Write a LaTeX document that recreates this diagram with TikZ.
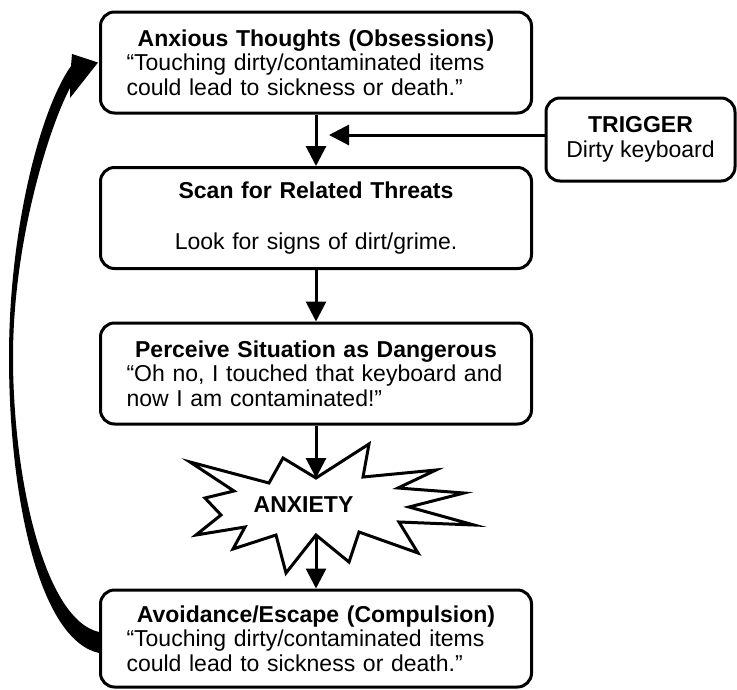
\documentclass[tikz,border=0pt]{standalone}
\usepackage{fontspec}
\setmainfont{Liberation Sans}
\usetikzlibrary{positioning,arrows.meta,calc}

\newcommand{\stagetitle}[1]{\makebox[\hsize][c]{\textbf{#1}}}

\begin{document}
\begin{tikzpicture}[x=1pt, y=-1pt, node distance=51.5pt,
        font=\fontsize{23}{24.5}\selectfont,
        boxline/.style={draw, line width=3pt, rounded corners=14pt},
        stage/.style={boxline, minimum width=431pt, minimum height=101pt, text width=379pt, inner xsep=26pt, align=left},
        flow/.style={line width=3pt, -{Triangle[length=20pt, width=20pt]}}]
        \useasboundingbox (0,0) rectangle (737,689);
        \node[stage] (anxious) at (316,62.5) {\stagetitle{Anxious Thoughts (Obsessions)}\\“Touching dirty/contaminated items\\could lead to sickness or death.”};
        \node[stage, align=center, below=of anxious] (scan) {\textbf{Scan for Related Threats}\\[26pt]Look for signs of dirt/grime.};
        \node[stage, below=of scan] (perceive) {\stagetitle{Perceive Situation as Dangerous}\\“Oh no, I touched that keyboard and\\now I am contaminated!”};
        \node[stage, minimum height=97pt, inner ysep=2pt, below=163pt of perceive] (avoid) {\stagetitle{Avoidance/Escape (Compulsion)}\\“Touching dirty/contaminated items\\could lead to sickness or death.”\par\vspace*{12pt}};
        \node[boxline, minimum width=189pt, minimum height=83pt, align=center] (trigger) at (640.5,139.5) {\textbf{TRIGGER}\\Dirty keyboard};
        \draw[line width=3pt] (316,478) coordinate (startop) -- (369,444) -- (363,477) -- (436,470) -- (398,488) -- (464,493) -- (409,507) -- (474,525) -- (399,522) -- (418,553) -- (359,532) -- (349,562) -- (316,535) coordinate (starbot) -- (286,573) -- (276,535) -- (233,549) -- (245,527) -- (196,535) -- (221,515) -- (205,498) -- (234,491) -- (190,462) -- (269,483) -- (283,458) -- cycle;
        \node[font=\fontsize{23}{24.5}\selectfont\bfseries] (anxiety) at (303.5,504.5) {ANXIETY};
        \draw[flow] (anxious.south) -- (scan.north);
        \draw[flow] (scan.south) -- (perceive.north);
        \draw[flow] (perceive.south) -- (startop);
        \draw[flow] (starbot) -- (avoid.north);
        \path ([yshift=4.5pt]trigger.west) coordinate (tw);
        \draw[flow] (tw) -- ($(anxious.south |- tw)+(13,0)$);
        \fill ($(anxious.west)+(-1,0)$) -- ($(anxious.west)+(-27,-8.5)$) -- ($(anxious.west)+(-28,3.5)$) .. controls (40,110) and (9,230) .. (9,357) .. controls (9,500) and (40,640) .. ($(avoid.west)+(0,14.5)$) -- ($(avoid.west)+(0,-6.5)$) .. controls (45,620) and (13,480) .. (13,357) .. controls (13,240) and (50,125) .. ($(anxious.west)+(-29,25.5)$) -- ($(anxious.west)+(-29,35.5)$) -- cycle;
    \end{tikzpicture}
\end{document}
